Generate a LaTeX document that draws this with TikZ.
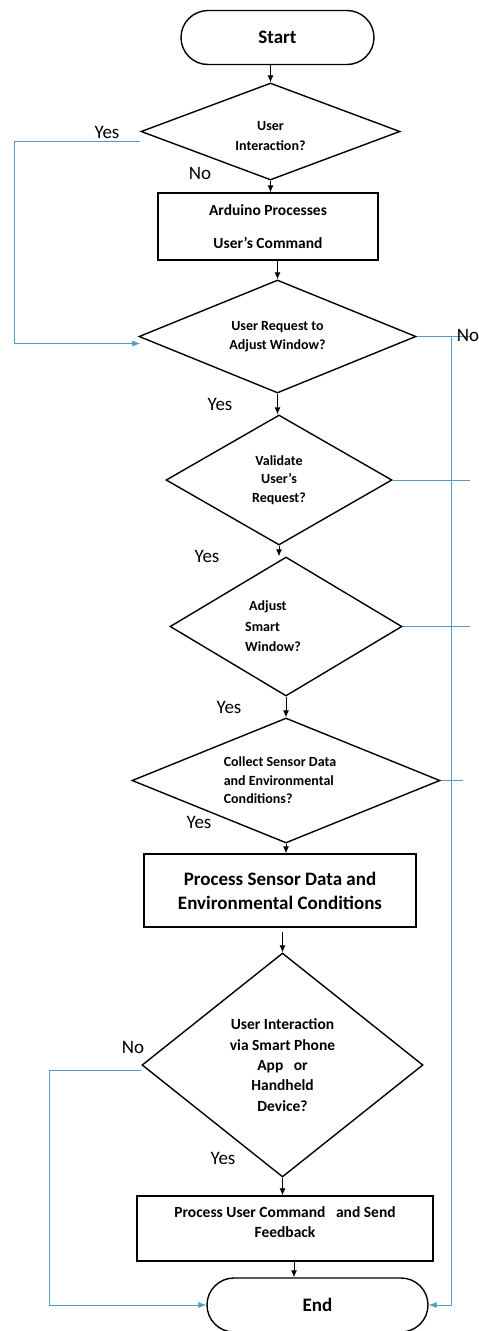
\documentclass[tikz,border=0pt]{standalone}
\usepackage{fontspec}
\setmainfont{Carlito}
\usetikzlibrary{shapes.geometric,arrows.meta,calc}
\definecolor{lnblue}{RGB}{80,155,200}
\begin{document}
\begin{tikzpicture}[x=1pt,y=-1pt,
  term/.style={draw,line width=1.4pt,rounded corners=27pt,minimum height=54pt,inner sep=0pt,font=\bfseries\fontsize{19}{22}\selectfont},
  dec/.style={draw,diamond,line width=1.4pt,inner sep=0pt,align=center,font=\bfseries\fontsize{14}{18.5}\selectfont},
  proc/.style={draw,rectangle,line width=1.4pt,inner sep=0pt,align=center},
  arr/.style={line width=0.9pt,-{Latex[length=7pt,width=6pt]}},
  barr/.style={draw=lnblue,line width=0.8pt,-{Latex[length=8pt,width=6pt]},color=lnblue},
  bline/.style={draw=lnblue,line width=0.8pt},
  lab/.style={font=\fontsize{19}{22}\selectfont,inner sep=0pt}]
\useasboundingbox[fill=white] (0,0) rectangle (479,1331);

% nodes
\node[term,minimum width=193pt] (start) at (277.5,37.5) {Start};
\node[dec,shape aspect=2.67,minimum width=259pt,minimum height=97pt] (d1) at (270.5,131.5) {\rule{0pt}{18pt}User\\[2pt]Interaction?};
\node[proc,minimum width=220pt,minimum height=67pt,font=\bfseries\fontsize{15.5}{19}\selectfont] (b1) at (268,226.5) {Arduino Processes\\[14pt]User’s Command};
\node[dec,shape aspect=2.45,minimum width=277pt,minimum height=113pt] (d2) at (277.5,336.5) {User Request to\\Adjust Window?};
\node[dec,shape aspect=1.74,minimum width=226pt,minimum height=130pt] (d3) at (279,480) {Validate\\User’s\\Request?};
\node[dec,shape aspect=1.67,minimum width=232pt,minimum height=139pt,align=left,font=\bfseries\fontsize{14}{20.5}\selectfont] (d4) at (286,626.5) {\hspace{4pt}Adjust\\Smart\\Window?\makebox[26pt]{}};
\node[dec,shape aspect=2.46,minimum width=308pt,minimum height=125pt,align=left] (d5) at (286,780.5) {Collect Sensor Data\makebox[12pt]{}\\and Environmental\\Conditions?};
\node[proc,minimum width=272pt,minimum height=73pt,font=\bfseries\fontsize{19}{24}\selectfont] (b2) at (280,890.5) {Process Sensor Data and\\Environmental Conditions};
\node[dec,shape aspect=1.25,minimum width=281pt,minimum height=224pt,font=\bfseries\fontsize{15.5}{20.3}\selectfont] (d6) at (282.5,1065) {User Interaction\\via Smart Phone\\App~~~or\\Handheld\\Device?};
\node[proc,minimum width=296pt,minimum height=65pt,font=\bfseries\fontsize{15.5}{20}\selectfont] (b3) at (285,1228.5) {Process User Command~~~and Send\\Feedback\\[-7pt]\mbox{}};
\node[term,minimum width=221pt] (end) at (317.5,1305) {End};

% black flow arrows
\draw[arr] (d1.north |- start.south) -- (d1.north);
\draw[arr] (d1.south) -- (d1.south |- b1.north);
\draw[arr] (b1.south -| d2.north) -- (d2.north);
\draw[arr] (d2.south) -- (d2.south |- d3.north);
\draw[arr] (d3.south) -- (d3.south |- d4.north);
\draw[arr] (d4.south) -- (d4.south |- d5.north);
\draw[arr] (d5.south) -- (d5.south |- b2.north);
\draw[arr] ($(b2.south -| d6.north)+(0,4)$) -- (d6.north);
\draw[arr] (d6.south) -- (d6.south |- b3.north);
\coordinate (eb) at (294,0);
\draw[arr] (eb |- b3.south) -- (eb |- end.north);

% blue connectors
\coordinate (lx) at (14,0);
\coordinate (rx) at (451,0);
\coordinate (rend) at (470,0);
\coordinate (lx2) at (49,0);
\coordinate (d2in) at ([xshift=2pt,yshift=-7pt]d2.west);
\draw[barr] ([yshift=-10pt]d1.west) -| (lx |- d2in) -- (d2in);
\draw[bline] (d2.east) -- (rend |- d2.east);
\draw[barr] (rx |- d2.east) -- (rx |- end.east) -- (end.east);
\draw[bline] (d3.east) -- (rend |- d3.east);
\draw[bline] (d4.east) -- (rend |- d4.east);
\draw[bline] (d5.east) -- ($(rx |- d5.east)+(12,0)$);
\draw[barr] ([yshift=-5pt]d6.west) -| (lx2 |- end.west) -- (end.west);

% labels
\node[lab] (l1) at (107,132) {Yes};
\node[lab] (l2) at (200,173) {No};
\node[lab] (l3) at (468,335) {No};
\node[lab] (l4) at (220,404) {Yes};
\node[lab] (l5) at (207,556) {Yes};
\node[lab] (l6) at (229,707) {Yes};
\node[lab] (l7) at (199,822) {Yes};
\node[lab] (l8) at (133,1047) {No};
\node[lab] (l9) at (223,1158) {Yes};
\end{tikzpicture}
\end{document}
